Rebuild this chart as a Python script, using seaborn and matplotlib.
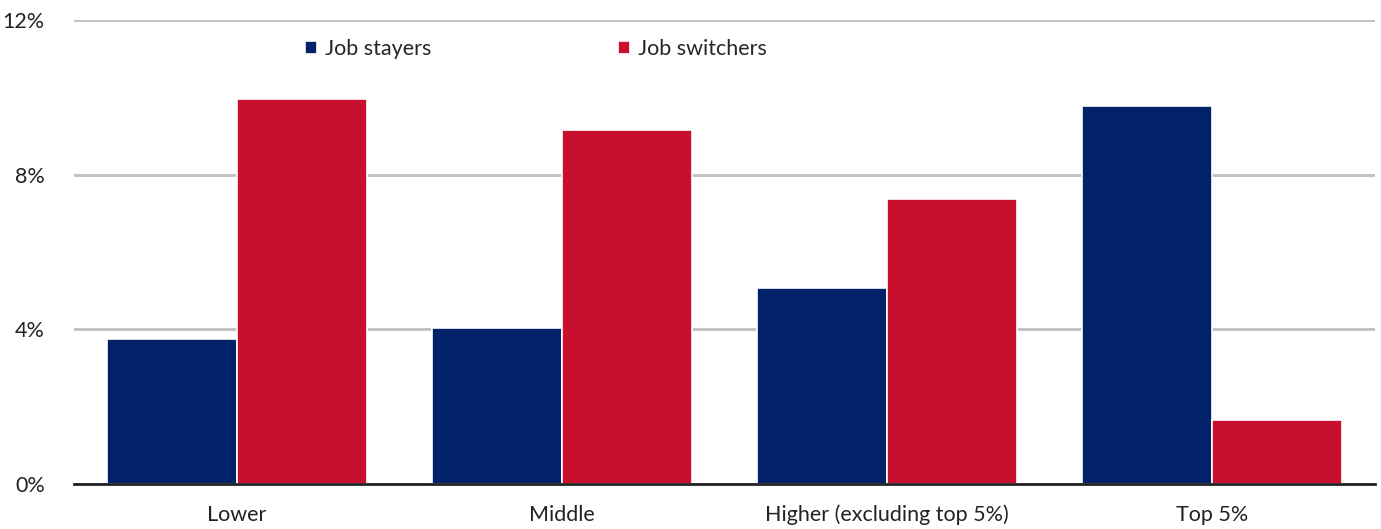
"""
Wage growth by income group: job stayers vs job switchers.
"""

import pandas as pd
import matplotlib.pyplot as plt
import seaborn as sns
from matplotlib.ticker import FuncFormatter

# Data
groups = ['Lower', 'Middle', 'Higher (excluding top 5%)', 'Top 5%']
stayers = [3.75, 4.04, 5.08, 9.79]
switchers = [9.95, 9.17, 7.36, 1.66]
series_names = ['Job stayers', 'Job switchers']
colors = ['#012169', '#C8102E']

sns.set_style("white")
plt.rcParams['font.family'] = ['Lato', 'DejaVu Sans']

df = pd.DataFrame({
    'group': groups * 2,
    'series': [series_names[0]] * len(groups) + [series_names[1]] * len(groups),
    'value': stayers + switchers,
})

fig = plt.figure(figsize=(13.81, 5.29), dpi=100)
ax = fig.add_axes([0.0536, 0.085, 0.942, 0.877])

sns.barplot(data=df, x='group', y='value', hue='series', palette=colors,
            width=0.8, saturation=1, edgecolor='white', linewidth=1.2, ax=ax,
            zorder=3)

ax.set_ylim(0, 12)
ax.set_yticks([0, 4, 8, 12])
ax.yaxis.set_major_formatter(FuncFormatter(lambda v, _: f'{v:.0f}%'))
ax.set_xlim(-0.5, len(groups) - 0.5)
ax.grid(axis='y', color='#BFBFBF', linewidth=2)
ax.set_axisbelow(True)
for side in ['top', 'right', 'left']:
    ax.spines[side].set_visible(False)
ax.spines['bottom'].set_color('#222222')
ax.spines['bottom'].set_linewidth(2)
ax.spines['bottom'].set_zorder(4)
ax.tick_params(axis='both', length=0, labelsize=15.5, colors='#222222')
ax.tick_params(axis='y', pad=21)
ax.tick_params(axis='x', pad=15)
ax.set_xlabel('')
ax.set_ylabel('')

handles, labels = ax.get_legend_handles_labels()
ax.legend(handles, labels, loc='center', bbox_to_anchor=(0.355, 0.938), ncol=2,
          frameon=False, fontsize=15.5, handlelength=0.55, handleheight=0.55,
          handletextpad=0.35, columnspacing=8.7)

plt.savefig('out.png', dpi=100)
plt.close()
